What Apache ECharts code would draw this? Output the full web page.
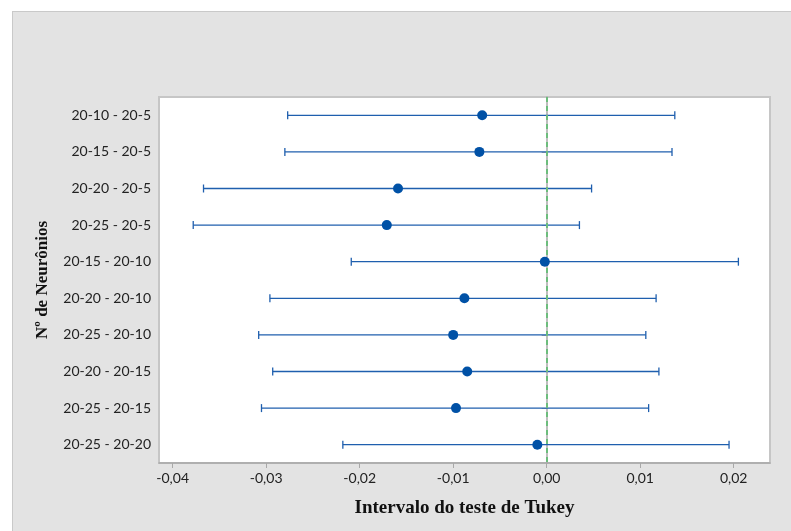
<!DOCTYPE html>
<html><head><meta charset="utf-8">
<script src="https://cdn.jsdelivr.net/npm/echarts@6/dist/echarts.min.js"></script>
<style>
html,body{margin:0;padding:0;background:#fff;}
#panel{position:absolute;left:12px;top:11px;width:781px;height:522px;background:#e3e3e3;border:1px solid #c9c9c9;box-sizing:border-box;}
#c{position:absolute;left:0;top:0;width:791px;height:531px;}
</style>
</head><body><div id="panel"></div><div id="c"></div>
<script>
const categories = ['20-10 - 20-5','20-15 - 20-5','20-20 - 20-5','20-25 - 20-5','20-15 - 20-10','20-20 - 20-10','20-25 - 20-10','20-20 - 20-15','20-25 - 20-15','20-25 - 20-20'];
const lower  = [-0.0277, -0.0280, -0.0367, -0.0378, -0.0209, -0.0296, -0.0308, -0.0293, -0.0305, -0.0218];
const center = [-0.0069, -0.0072, -0.0159, -0.0171, -0.0002, -0.0088, -0.0100, -0.0085, -0.0097, -0.0010];
const upper  = [ 0.0137,  0.0134,  0.0048,  0.0035,  0.0205,  0.0117,  0.0106,  0.0120,  0.0109,  0.0195];
const xTicks = [-0.04, -0.03, -0.02, -0.01, 0.00, 0.01, 0.02];
const referenceValue = 0;

const chart = echarts.init(document.getElementById('c'), null, {renderer:'canvas'});
const barColor = '#1f5fae';
const dotColor = '#0051a6';

chart.setOption({
  backgroundColor: 'transparent',
  animation: false,
  grid: {left:159, right:21, top:97, bottom:68, show:true, backgroundColor:'#ffffff', borderColor:'#c6c6c6', borderWidth:2},
  xAxis: {
    type:'value', min:-0.04146, max:0.02388,
    name:'Intervalo do teste de Tukey', nameLocation:'middle', nameGap:36,
    nameTextStyle:{fontFamily:'Liberation Serif', fontWeight:'bold', fontSize:19, color:'#111'},
    axisLine:{show:true, onZero:false, lineStyle:{color:'#a8a8a8', width:1.5}},
    axisTick:{show:true, length:5, lineStyle:{color:'#a8a8a8'}, customValues:xTicks},
    axisLabel:{customValues:xTicks, formatter:v=>v.toFixed(2).replace('.',','), fontFamily:'Lato', fontSize:14, color:'#222', margin:8},
    splitLine:{show:false}
  },
  yAxis: {
    type:'category', data:categories, inverse:true,
    name:'Nº de Neurônios', nameLocation:'middle', nameGap:108, nameRotate:90,
    nameTextStyle:{fontFamily:'Liberation Serif', fontWeight:'bold', fontSize:17, color:'#111'},
    axisLine:{show:true, lineStyle:{color:'#a8a8a8', width:1.5}},
    axisTick:{show:true, length:5, alignWithLabel:true, lineStyle:{color:'#a8a8a8'}},
    axisLabel:{fontFamily:'Lato', fontSize:14, color:'#222', margin:8},
    splitLine:{show:false}
  },
  series: [
    {
      type:'custom',
      data: categories.map((c,i)=>[lower[i], upper[i], i]),
      encode:{x:[0,1], y:2},
      renderItem: function(params, api){
        const a = api.coord([api.value(0), api.value(2)]);
        const b = api.coord([api.value(1), api.value(2)]);
        const h = 4;
        const st = {stroke:barColor, lineWidth:1.3, fill:null};
        return {type:'group', children:[
          {type:'line', shape:{x1:a[0], y1:a[1], x2:b[0], y2:b[1]}, style:st},
          {type:'line', shape:{x1:a[0], y1:a[1]-h, x2:a[0], y2:a[1]+h}, style:st},
          {type:'line', shape:{x1:b[0], y1:b[1]-h, x2:b[0], y2:b[1]+h}, style:st}
        ]};
      },
      z:2
    },
    {
      type:'scatter',
      data: [],
      z:3,
      markLine:{
        z:3,
        silent:true, symbol:'none', animation:false,
        label:{show:false},
        lineStyle:{color:'#6cbd7c', type:[5,4], width:2, opacity:1},
        data:[{xAxis:referenceValue}]
      }
    },
    {
      type:'scatter',
      data: categories.map((c,i)=>[center[i], c]),
      symbol:'circle', symbolSize:10,
      itemStyle:{color:dotColor, opacity:1},
      z:6
    }
  ]
});
</script>
</body></html>
